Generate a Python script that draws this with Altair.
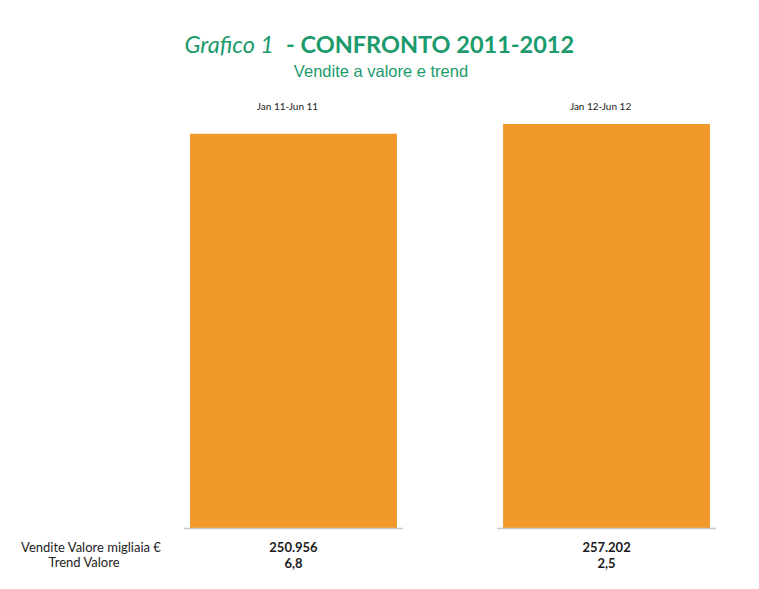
import altair as alt
import pandas as pd

# ---- data ----
periods = ["Jan 11-Jun 11", "Jan 12-Jun 12"]
sales = [250.956, 257.202]          # Vendite Valore migliaia €
trend = [6.8, 2.5]                  # Trend Valore
row_labels = ["Vendite Valore migliaia €", "Trend Valore"]
title_a = "Grafico 1"
title_b = "- CONFRONTO 2011-2012"
subtitle = "Vendite a valore e trend"

df = pd.DataFrame({
    "period": periods,
    "sales": sales,
    "trend": trend,
    "sales_lbl": [f"{v:.3f}" for v in sales],
    "trend_lbl": [f"{t:.1f}".replace(".", ",") for t in trend],
})

GREEN = "#1B9A6C"
ORANGE = "#F2992C"

xscale = alt.Scale(domain=periods, range=[182, 702], paddingInner=0.339, paddingOuter=0)
yscale = alt.Scale(domain=[0, 331], range=[520, 0], nice=False, zero=True)
X = alt.X("period:N", scale=xscale, axis=None, sort=periods)

base = alt.Chart(df)

bars = base.mark_bar(color=ORANGE).encode(
    x=X,
    y=alt.Y("sales:Q", scale=yscale, axis=None),
)

baseline = base.mark_rule(color="#C8C8C8", strokeWidth=1.5, xOffset=-6, x2Offset=6).encode(
    x=alt.X("period:N", scale=xscale, axis=None, sort=periods, bandPosition=0),
    x2=alt.X2("period:N", bandPosition=1),
    y=alt.value(520.5),
)

cat_labels = base.mark_text(font="Lato", fontSize=10, color="#222222", dx=-6,
                            baseline="alphabetic").encode(
    x=X, y=alt.value(102), text="period:N"
)

sales_txt = base.mark_text(font="Lato", fontSize=13, fontWeight="bold", color="#1a1a1a",
                           baseline="alphabetic").encode(
    x=X, y=alt.value(544), text="sales_lbl:N"
)
trend_txt = base.mark_text(font="Lato", fontSize=13, fontWeight="bold", color="#1a1a1a",
                           baseline="alphabetic").encode(
    x=X, y=alt.value(560), text="trend_lbl:N"
)

row1 = alt.Chart(pd.DataFrame({"t": [row_labels[0]]})).mark_text(
    font="Lato", fontSize=13, color="#222222", baseline="alphabetic").encode(
    x=alt.value(83), y=alt.value(544), text="t:N")
row2 = alt.Chart(pd.DataFrame({"t": [row_labels[1]]})).mark_text(
    font="Lato", fontSize=13, color="#222222", baseline="alphabetic").encode(
    x=alt.value(76), y=alt.value(559), text="t:N")

t1 = alt.Chart(pd.DataFrame({"t": [title_a]})).mark_text(
    font="Lato", fontSize=23.5, fontStyle="italic", color=GREEN, align="right",
    baseline="alphabetic").encode(x=alt.value(266), y=alt.value(45), text="t:N")
t2 = alt.Chart(pd.DataFrame({"t": [title_b]})).mark_text(
    font="Lato", fontSize=23.5, fontWeight="bold", color=GREEN, align="left",
    baseline="alphabetic").encode(x=alt.value(278), y=alt.value(45), text="t:N")
t3 = alt.Chart(pd.DataFrame({"t": [subtitle]})).mark_text(
    font="Liberation Sans", fontSize=16.5, color=GREEN, align="center",
    baseline="alphabetic").encode(x=alt.value(373), y=alt.value(68.5), text="t:N")

chart = alt.layer(bars, baseline, cat_labels, sales_txt, trend_txt, row1, row2, t1, t2, t3).properties(
    width=740, height=570,
    autosize=alt.AutoSizeParams(type="none"),
    padding=0,
).configure_view(strokeWidth=0, stroke="transparent")

chart.save("out.html", embed_options={"renderer": "svg", "actions": False})
